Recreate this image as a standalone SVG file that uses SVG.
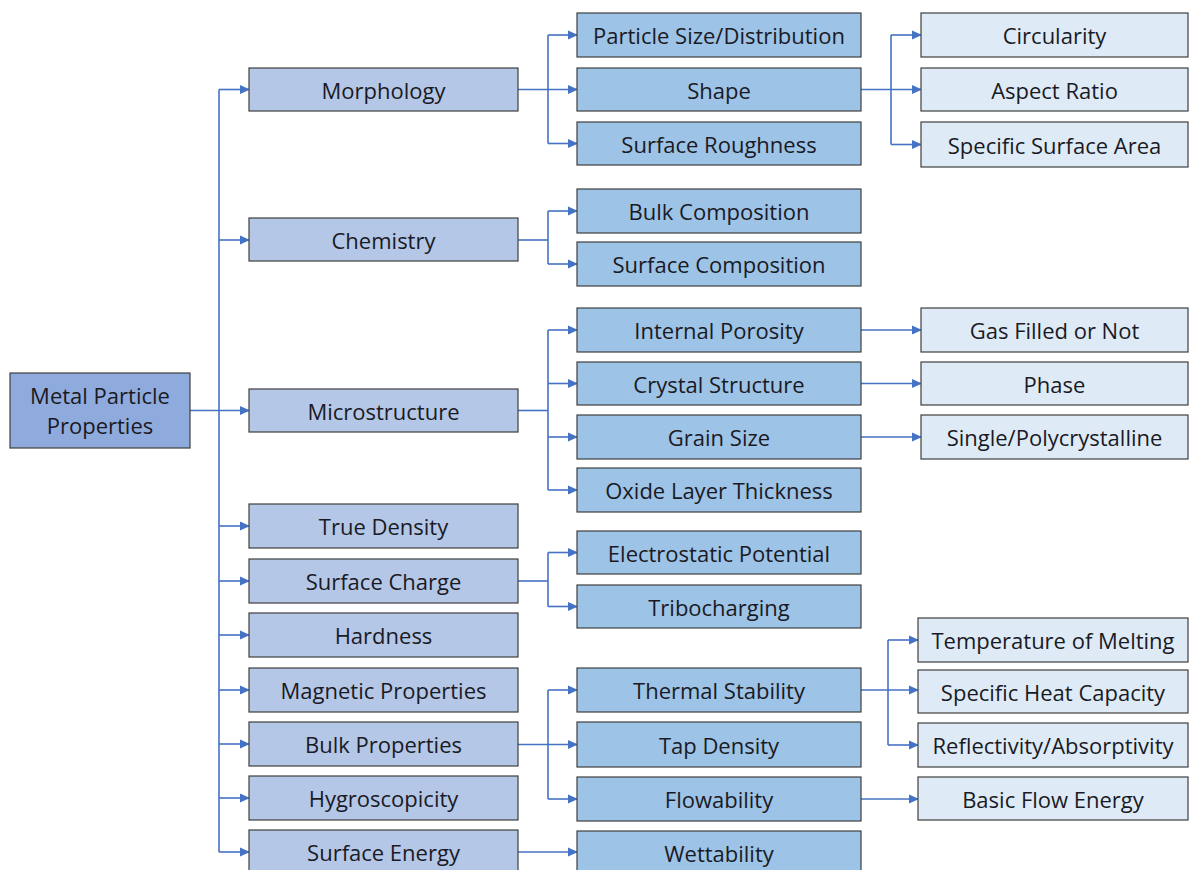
<svg xmlns="http://www.w3.org/2000/svg" width="1190" height="870" viewBox="0 0 1190 870">
<style>
.box{stroke:#3f3f3f;stroke-width:1.2}
.root{fill:#8faadc}
.l1{fill:#b4c7e7}
.l2{fill:#9dc3e6}
.l3{fill:#deebf7}
text{font-family:"Open Sans","Noto Sans","Liberation Sans",sans-serif;font-size:22px;fill:#1a1a24;text-anchor:middle;dominant-baseline:central}
.c{fill:none;stroke:#4472c4;stroke-width:1.6}
</style>
<defs>
<marker id="ah" markerWidth="10" markerHeight="10" refX="9" refY="5" orient="auto" markerUnits="userSpaceOnUse">
<path d="M0,0.5 L10,5 L0,9.5 Z" fill="#4472c4"/>
</marker>
</defs>
<rect width="1190" height="870" fill="#ffffff"/>
<g id="connectors">
<path class="c" d="M219,89.5 V852"/>
<path class="c" d="M190,410.5 H249" marker-end="url(#ah)"/>
<path class="c" d="M219,89.5 H249" marker-end="url(#ah)"/>
<path class="c" d="M219,240 H249" marker-end="url(#ah)"/>
<path class="c" d="M219,526 H249" marker-end="url(#ah)"/>
<path class="c" d="M219,581 H249" marker-end="url(#ah)"/>
<path class="c" d="M219,635 H249" marker-end="url(#ah)"/>
<path class="c" d="M219,690 H249" marker-end="url(#ah)"/>
<path class="c" d="M219,744 H249" marker-end="url(#ah)"/>
<path class="c" d="M219,798 H249" marker-end="url(#ah)"/>
<path class="c" d="M219,852 H249" marker-end="url(#ah)"/>
<path class="c" d="M518,89.5 H577" marker-end="url(#ah)"/>
<path class="c" d="M548,35 V143.5"/>
<path class="c" d="M548,35 H577" marker-end="url(#ah)"/>
<path class="c" d="M548,143.5 H577" marker-end="url(#ah)"/>
<path class="c" d="M518,240 H548"/>
<path class="c" d="M548,211 V264"/>
<path class="c" d="M548,211 H577" marker-end="url(#ah)"/>
<path class="c" d="M548,264 H577" marker-end="url(#ah)"/>
<path class="c" d="M518,410.5 H548"/>
<path class="c" d="M548,330 V490"/>
<path class="c" d="M548,330 H577" marker-end="url(#ah)"/>
<path class="c" d="M548,383.5 H577" marker-end="url(#ah)"/>
<path class="c" d="M548,437 H577" marker-end="url(#ah)"/>
<path class="c" d="M548,490 H577" marker-end="url(#ah)"/>
<path class="c" d="M518,581 H548"/>
<path class="c" d="M548,552.5 V606.5"/>
<path class="c" d="M548,552.5 H577" marker-end="url(#ah)"/>
<path class="c" d="M548,606.5 H577" marker-end="url(#ah)"/>
<path class="c" d="M518,744.5 H577" marker-end="url(#ah)"/>
<path class="c" d="M548,690 V799"/>
<path class="c" d="M548,690 H577" marker-end="url(#ah)"/>
<path class="c" d="M548,799 H577" marker-end="url(#ah)"/>
<path class="c" d="M518,852 H577" marker-end="url(#ah)"/>
<path class="c" d="M861,89.5 H921" marker-end="url(#ah)"/>
<path class="c" d="M891,35 V144.5"/>
<path class="c" d="M891,35 H921" marker-end="url(#ah)"/>
<path class="c" d="M891,144.5 H921" marker-end="url(#ah)"/>
<path class="c" d="M861,330 H921" marker-end="url(#ah)"/>
<path class="c" d="M861,383.5 H921" marker-end="url(#ah)"/>
<path class="c" d="M861,437 H921" marker-end="url(#ah)"/>
<path class="c" d="M861,690 H918" marker-end="url(#ah)"/>
<path class="c" d="M888,640 V745"/>
<path class="c" d="M888,640 H918" marker-end="url(#ah)"/>
<path class="c" d="M888,745 H918" marker-end="url(#ah)"/>
<path class="c" d="M861,799 H918" marker-end="url(#ah)"/>
</g>
<g id="n-root"><rect class="box root" x="10" y="373" width="180" height="75"/><text x="100" y="395">Metal Particle</text><text x="100" y="425">Properties</text></g>
<g id="n-morphology"><rect class="box l1" x="249" y="68" width="269" height="43"/><text x="383.5" y="89.5">Morphology</text></g>
<g id="n-chemistry"><rect class="box l1" x="249" y="218" width="269" height="43"/><text x="383.5" y="239.5">Chemistry</text></g>
<g id="n-microstructure"><rect class="box l1" x="249" y="389" width="269" height="43"/><text x="383.5" y="410.5">Microstructure</text></g>
<g id="n-truedensity"><rect class="box l1" x="249" y="504" width="269" height="44"/><text x="383.5" y="526">True Density</text></g>
<g id="n-surfacecharge"><rect class="box l1" x="249" y="559" width="269" height="44"/><text x="383.5" y="581">Surface Charge</text></g>
<g id="n-hardness"><rect class="box l1" x="249" y="613" width="269" height="44"/><text x="383.5" y="635">Hardness</text></g>
<g id="n-magnetic"><rect class="box l1" x="249" y="668" width="269" height="44"/><text x="383.5" y="690">Magnetic Properties</text></g>
<g id="n-bulk"><rect class="box l1" x="249" y="722" width="269" height="44"/><text x="383.5" y="744">Bulk Properties</text></g>
<g id="n-hygro"><rect class="box l1" x="249" y="776" width="269" height="44"/><text x="383.5" y="798">Hygroscopicity</text></g>
<g id="n-surfenergy"><rect class="box l1" x="249" y="830" width="269" height="44"/><text x="383.5" y="852">Surface Energy</text></g>
<g id="n-psd"><rect class="box l2" x="577" y="13" width="284" height="44"/><text x="719" y="35">Particle Size/Distribution</text></g>
<g id="n-shape"><rect class="box l2" x="577" y="68" width="284" height="43"/><text x="719" y="89.5">Shape</text></g>
<g id="n-roughness"><rect class="box l2" x="577" y="122" width="284" height="43"/><text x="719" y="143.5">Surface Roughness</text></g>
<g id="n-bulkcomp"><rect class="box l2" x="577" y="189" width="284" height="44"/><text x="719" y="211">Bulk Composition</text></g>
<g id="n-surfcomp"><rect class="box l2" x="577" y="242" width="284" height="44"/><text x="719" y="264">Surface Composition</text></g>
<g id="n-porosity"><rect class="box l2" x="577" y="308" width="284" height="44"/><text x="719" y="330">Internal Porosity</text></g>
<g id="n-crystal"><rect class="box l2" x="577" y="362" width="284" height="43"/><text x="719" y="383.5">Crystal Structure</text></g>
<g id="n-grain"><rect class="box l2" x="577" y="415" width="284" height="44"/><text x="719" y="437">Grain Size</text></g>
<g id="n-oxide"><rect class="box l2" x="577" y="468" width="284" height="44"/><text x="719" y="490">Oxide Layer Thickness</text></g>
<g id="n-electro"><rect class="box l2" x="577" y="531" width="284" height="43"/><text x="719" y="552.5">Electrostatic Potential</text></g>
<g id="n-tribo"><rect class="box l2" x="577" y="585" width="284" height="43"/><text x="719" y="606.5">Tribocharging</text></g>
<g id="n-thermal"><rect class="box l2" x="577" y="668" width="284" height="44"/><text x="719" y="690">Thermal Stability</text></g>
<g id="n-tap"><rect class="box l2" x="577" y="722" width="284" height="45"/><text x="719" y="744.5">Tap Density</text></g>
<g id="n-flow"><rect class="box l2" x="577" y="777" width="284" height="44"/><text x="719" y="799">Flowability</text></g>
<g id="n-wett"><rect class="box l2" x="577" y="831" width="284" height="44"/><text x="719" y="853">Wettability</text></g>
<g id="n-circ"><rect class="box l3" x="921" y="13" width="267" height="44"/><text x="1054.5" y="35">Circularity</text></g>
<g id="n-aspect"><rect class="box l3" x="921" y="68" width="267" height="43"/><text x="1054.5" y="89.5">Aspect Ratio</text></g>
<g id="n-ssa"><rect class="box l3" x="921" y="122" width="267" height="45"/><text x="1054.5" y="144.5">Specific Surface Area</text></g>
<g id="n-gas"><rect class="box l3" x="921" y="308" width="267" height="44"/><text x="1054.5" y="330">Gas Filled or Not</text></g>
<g id="n-phase"><rect class="box l3" x="921" y="362" width="267" height="43"/><text x="1054.5" y="383.5">Phase</text></g>
<g id="n-single"><rect class="box l3" x="921" y="415" width="267" height="44"/><text x="1054.5" y="437">Single/Polycrystalline</text></g>
<g id="n-melt"><rect class="box l3" x="918" y="618" width="270" height="44"/><text x="1053" y="640">Temperature of Melting</text></g>
<g id="n-heat"><rect class="box l3" x="918" y="670" width="270" height="43"/><text x="1053" y="691.5">Specific Heat Capacity</text></g>
<g id="n-refl"><rect class="box l3" x="918" y="723" width="270" height="44"/><text x="1053" y="745">Reflectivity/Absorptivity</text></g>
<g id="n-bfe"><rect class="box l3" x="918" y="777" width="270" height="43"/><text x="1053" y="798.5">Basic Flow Energy</text></g>
</svg>
